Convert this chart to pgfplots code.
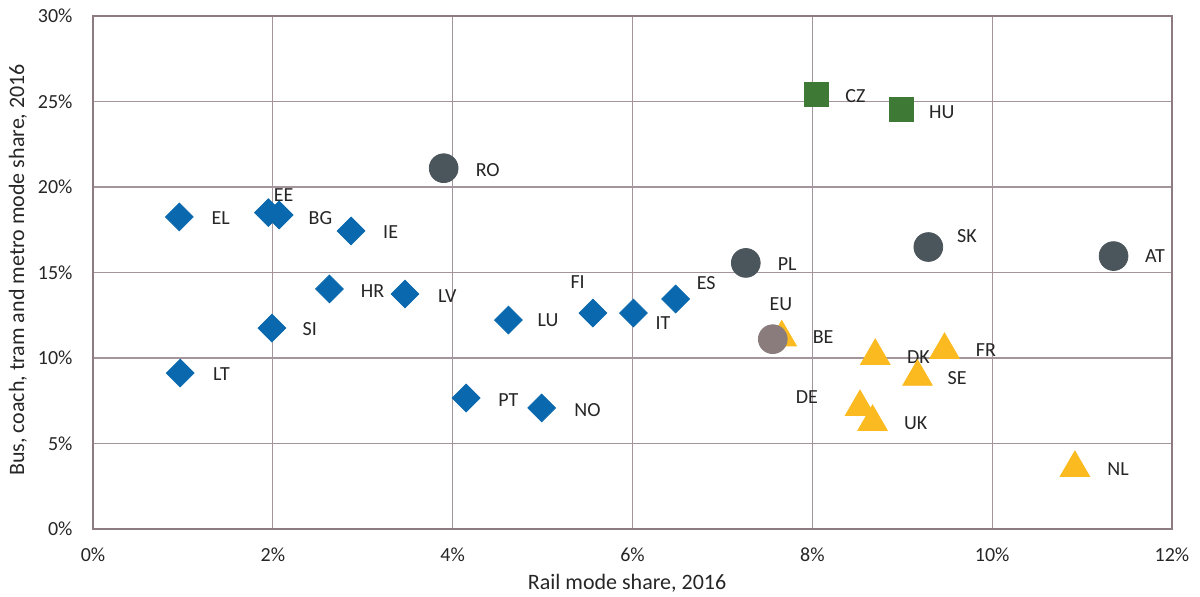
\documentclass[border=0pt]{standalone}
\usepackage{pgfplots}
\pgfplotsset{compat=1.18}
\usepackage{fontspec}
\setmainfont{Carlito}
\definecolor{dblue}{HTML}{0A69AE}
\definecolor{dgrey}{HTML}{4B565C}
\definecolor{dgreen}{HTML}{3E7A35}
\definecolor{amber}{HTML}{FBBA1F}
\definecolor{eugrey}{HTML}{8A7B7D}
\definecolor{gridc}{HTML}{A3959B}
\definecolor{axisc}{HTML}{8C7C82}
\definecolor{txt}{HTML}{262626}
\begin{document}
\begin{tikzpicture}
\useasboundingbox (-46.5pt,-33.5pt) rectangle (553.5pt,264.5pt);
\begin{axis}[
  at={(0,0)}, anchor=south west,
  scale only axis, width=539.5pt, height=256.5pt,
  xmin=0, xmax=12, ymin=0, ymax=30,
  xtick={0,2,...,12}, ytick={0,5,...,30},
  xticklabel={\pgfmathprintnumber[assume math mode=true]{\tick}\%},
  yticklabel={\pgfmathprintnumber[assume math mode=true]{\tick}\%},
  major tick length=0pt,
  tick label style={font=\fontsize{10}{12}\selectfont, text=txt},
  xticklabel style={anchor=center, yshift=-13pt},
  yticklabel style={anchor=east, xshift=-6.7pt},
  grid=major, major grid style={gridc, line width=0.6pt},
  axis line style={axisc, line width=1pt},
  xlabel={Rail mode share, 2016},
  ylabel={Bus, coach, tram and metro mode share, 2016},
  label style={font=\fontsize{11}{13}\selectfont, text=txt},
  xlabel style={at={(axis description cs:0.495,-0.105)}, anchor=center},
  ylabel style={at={(axis description cs:-0.0695,0.505)}, anchor=center},
  clip=false,
]
% diamonds
\addplot[only marks, mark=square*, mark size=4.9pt, mark options={rotate=45, fill=dblue, draw=dblue}] coordinates {
 (0.96,18.25) (1.95,18.5) (2.07,18.36) (2.87,17.43) (2.63,14.04) (3.47,13.74)
 (1.99,11.75) (0.97,9.12) (4.62,12.22) (5.56,12.63) (6.01,12.63) (6.48,13.45)
 (4.15,7.66) (4.99,7.08)};
% circles
\addplot[only marks, mark=*, mark size=7.2pt, mark options={fill=dgrey, draw=dgrey}] coordinates {
 (3.90,21.1) (7.26,15.56) (9.29,16.49) (11.35,15.96)};
% squares
\addplot[only marks, mark=square*, mark size=6pt, mark options={fill=dgreen, draw=dgreen}] coordinates {
 (8.04,25.44) (8.99,24.56)};
% triangles
\addplot[only marks, mark=triangle*, mark size=8.5pt, mark options={fill=amber, draw=amber}] coordinates {
 (7.66,11.2) (8.70,10.12) (9.47,10.47) (9.17,8.9) (8.53,7.13) (8.67,6.26) (10.92,3.57)};
% EU
\addplot[only marks, mark=*, mark size=7.2pt, mark options={fill=eugrey, draw=eugrey}] coordinates {
 (7.56,11.1)};
\begin{scope}[every node/.style={font=\fontsize{10}{12}\selectfont, text=txt}]
\node at (axis cs:1.42,18.19) {EL};
\node at (axis cs:2.12,19.53) {EE};
\node at (axis cs:2.53,18.19) {BG};
\node at (axis cs:3.31,17.37) {IE};
\node at (axis cs:3.11,13.92) {HR};
\node at (axis cs:3.94,13.63) {LV};
\node at (axis cs:2.41,11.70) {SI};
\node at (axis cs:1.43,9.06) {LT};
\node at (axis cs:5.06,12.22) {LU};
\node at (axis cs:5.39,14.44) {FI};
\node at (axis cs:6.34,12.05) {IT};
\node at (axis cs:6.82,14.39) {ES};
\node at (axis cs:4.62,7.54) {PT};
\node at (axis cs:5.50,6.96) {NO};
\node at (axis cs:4.39,20.99) {RO};
\node at (axis cs:7.72,15.50) {PL};
\node at (axis cs:9.72,17.13) {SK};
\node at (axis cs:11.81,15.96) {AT};
\node at (axis cs:8.48,25.32) {CZ};
\node at (axis cs:9.44,24.39) {HU};
\node at (axis cs:7.65,13.16) {EU};
\node at (axis cs:8.12,11.23) {BE};
\node at (axis cs:9.18,10.06) {DK};
\node at (axis cs:9.93,10.47) {FR};
\node at (axis cs:9.61,8.83) {SE};
\node at (axis cs:7.94,7.72) {DE};
\node at (axis cs:9.15,6.20) {UK};
\node at (axis cs:11.40,3.51) {NL};
\end{scope}
\end{axis}
\end{tikzpicture}
\end{document}
